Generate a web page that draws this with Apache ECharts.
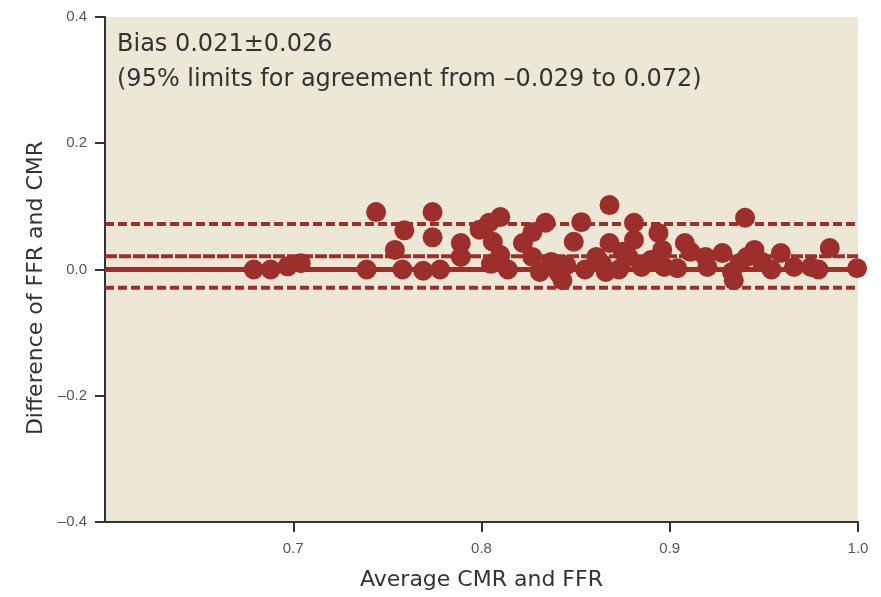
<!DOCTYPE html>
<html>
<head>
<meta charset="utf-8">
<script src="https://cdn.jsdelivr.net/npm/echarts@6/dist/echarts.min.js"></script>
<style>
html,body{margin:0;padding:0;background:#fff;}
#chart{width:881px;height:597px;}
</style>
</head>
<body>
<div id="chart"></div>
<script>
// Bland-Altman data: average (x) and difference (y)
var avgValues = [0.679,0.688,0.697,0.704,0.739,0.744,0.754,0.759,0.758,0.769,0.774,0.774,0.778,0.789,0.789,
  0.799,0.804,0.810,0.806,0.810,0.805,0.814,0.822,0.827,0.834,0.827,0.831,0.837,0.841,0.843,
  0.849,0.853,0.855,0.861,0.864,0.866,0.868,0.868,0.873,0.875,0.878,0.881,0.881,0.885,0.894,
  0.897,0.896,0.908,0.911,0.919,0.920,0.928,0.933,0.934,0.937,0.940,0.945,0.941,0.949,0.954,
  0.959,0.966,0.975,0.979,0.985,0.9995,0.845,0.890,0.904];
var diffValues = [0.000,0.000,0.005,0.010,0.000,0.091,0.031,0.062,0.000,-0.002,0.091,0.051,0.000,0.042,0.020,
  0.063,0.074,0.083,0.044,0.023,0.009,0.000,0.042,0.059,0.074,0.020,-0.004,0.012,-0.006,-0.017,
  0.044,0.075,0.000,0.020,0.009,-0.004,0.102,0.042,0.000,0.028,0.020,0.074,0.047,0.004,0.058,
  0.004,0.031,0.042,0.028,0.020,0.004,0.026,-0.004,-0.017,0.010,0.082,0.031,0.020,0.012,0.000,
  0.026,0.004,0.004,0.000,0.034,0.002,0.007,0.015,0.002];
var zeroLine = 0;
var biasValue = 0.021;
var lowerLimit = -0.029;
var upperLimit = 0.072;
var xRange = [0.6, 1.0];
var xTickValues = [0.7, 0.8, 0.9, 1.0];
var yTicks = ['0.4','0.2','0.0','\u20130.2','\u20130.4'];
var annotationLines = ['Bias 0.021\u00b10.026', '(95% limits for agreement from \u20130.029 to 0.072)'];
var xAxisTitle = 'Average CMR and FFR';
var yAxisTitle = 'Difference of FFR and CMR';

var red = '#9c2f2b';
var points = avgValues.map(function(x,i){return [x, diffValues[i]];});
function hline(v){return [[xRange[0], v],[xRange[1], v]];}

var chart = echarts.init(document.getElementById('chart'));
var labelFont = "'Liberation Sans Narrow','Liberation Sans',sans-serif";
chart.setOption({
  animation:false,
  grid:{left:105,right:23,top:17,bottom:75,show:true,backgroundColor:'#ece8d5',borderWidth:0},
  xAxis:{
    type:'value',min:xRange[0],max:xRange[1],interval:0.1,
    name:xAxisTitle,nameLocation:'middle',nameGap:47,
    nameTextStyle:{fontSize:22,color:'#333',fontFamily:'DejaVu Sans'},
    axisLine:{show:true,onZero:false,lineStyle:{color:'#333',width:2}},
    axisTick:{show:true,length:10,customValues:xTickValues,lineStyle:{color:'#333',width:2}},
    axisLabel:{margin:19,fontSize:15,color:'#555',fontFamily:labelFont,customValues:xTickValues,
      formatter:function(v){return v.toFixed(1);}},
    splitLine:{show:false}
  },
  yAxis:{
    type:'value',min:-0.4,max:0.4,interval:0.2,
    axisLine:{show:true,onZero:false,lineStyle:{color:'#333',width:2}},
    axisTick:{show:true,length:10,lineStyle:{color:'#333',width:2}},
    axisLabel:{margin:18,fontSize:15,color:'#555',fontFamily:labelFont,
      formatter:function(v){var i=Math.round((0.4-v)/0.2);return yTicks[i];}},
    splitLine:{show:false}
  },
  graphic:[
    {type:'text',left:117,top:33,style:{text:annotationLines[0],font:"24px 'DejaVu Sans'",fill:'#333'}},
    {type:'text',left:117,top:68,style:{text:annotationLines[1],font:"24px 'DejaVu Sans'",fill:'#333'}},
    {type:'text',x:36,y:288,rotation:Math.PI/2,
      style:{text:yAxisTitle,font:"22px 'DejaVu Sans'",fill:'#333',align:'center',verticalAlign:'middle'}}
  ],
  series:[
    {type:'line',data:hline(upperLimit),symbol:'none',lineStyle:{color:red,width:4,type:[9,4]},z:2,silent:true},
    {type:'line',data:hline(biasValue),symbol:'none',lineStyle:{color:red,width:4,type:[12,2]},z:2,silent:true},
    {type:'line',data:hline(zeroLine),symbol:'none',lineStyle:{color:red,width:5},z:2,silent:true},
    {type:'line',data:hline(lowerLimit),symbol:'none',lineStyle:{color:red,width:4,type:[9,4]},z:2,silent:true},
    {type:'scatter',data:points,symbol:'circle',symbolSize:20,itemStyle:{color:red,opacity:1},z:3}
  ]
});
</script>
</body>
</html>
